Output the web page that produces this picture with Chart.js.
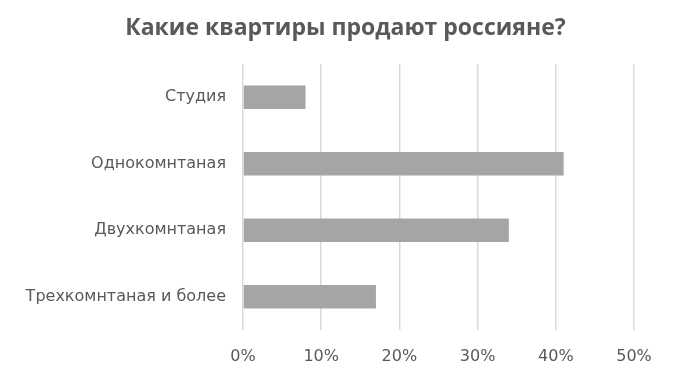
<!DOCTYPE html>
<html>
<head>
<meta charset="utf-8">
<script src="https://cdn.jsdelivr.net/npm/chart.js@4/dist/chart.umd.min.js"></script>
<style>
html,body{margin:0;padding:0;background:#fff;}
#wrap{width:700px;height:380px;position:relative;}
</style>
</head>
<body>
<div id="wrap"><canvas id="c" width="700" height="380"></canvas></div>
<script>
const titleText = "Какие квартиры продают россияне?";
const categories = ["Студия", "Однокомнтаная", "Двухкомнтаная", "Трехкомнтаная и более"];
const values = [8, 41, 34, 17];
const tickMax = 50;
const tickStep = 10;

const titlePlugin = {
  id: 'centeredTitle',
  afterDraw(chart) {
    const ctx = chart.ctx;
    ctx.save();
    ctx.fillStyle = '#595959';
    ctx.font = 'bold 23px "Open Sans"';
    ctx.textAlign = 'center';
    ctx.textBaseline = 'middle';
    ctx.fillText(titleText, 345.5, 28);
    ctx.restore();
  }
};

new Chart(document.getElementById('c'), {
  type: 'bar',
  data: {
    labels: categories,
    datasets: [{
      data: values,
      backgroundColor: '#a5a5a5',
      borderWidth: 0,
      barPercentage: 0.35,
      categoryPercentage: 1.0
    }]
  },
  plugins: [titlePlugin],
  options: {
    indexAxis: 'y',
    responsive: false,
    animation: false,
    layout: { padding: { left: 0, right: 66, top: 64, bottom: 0 } },
    plugins: {
      legend: { display: false },
      tooltip: { enabled: false },
      title: { display: false }
    },
    scales: {
      x: {
        min: 0, max: tickMax,
        afterFit: s => { s.height = 50; },
        ticks: {
          stepSize: tickStep,
          callback: v => v + '%',
          color: '#595959',
          font: { family: 'DejaVu Sans', size: 16 },
          padding: 17
        },
        grid: { color: '#d9d9d9', lineWidth: 1.5, drawTicks: false },
        border: { display: false }
      },
      y: {
        afterFit: s => { s.width = 243; },
        ticks: {
          color: '#595959',
          font: { family: 'DejaVu Sans', size: 16 },
          padding: 9
        },
        grid: { display: false },
        border: { display: false }
      }
    }
  }
});
</script>
</body>
</html>
